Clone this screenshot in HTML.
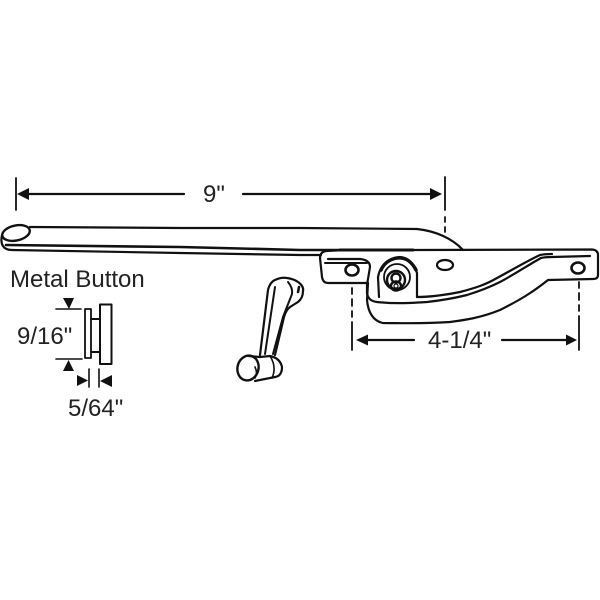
<!DOCTYPE html>
<html><head><meta charset="utf-8"><style>
html,body{margin:0;padding:0;background:#fff;width:600px;height:600px;overflow:hidden}
svg{display:block}
text{font-family:"Liberation Sans",sans-serif;fill:#222;font-size:24px}
</style></head><body>
<svg width="600" height="600" viewBox="0 0 600 600" xmlns="http://www.w3.org/2000/svg">
<g fill="none" stroke="#111" stroke-width="2" stroke-linecap="round" stroke-linejoin="round">
<!-- arm -->
<path d="M30 227 L180 228 L300 228 L417 229 C435 231 452 238 463 250" stroke-width="2.200"/>
<ellipse cx="16" cy="233" rx="14" ry="7.500" transform="rotate(-12 16 233)" stroke-width="2.400"/>
<path d="M2 235 C0 244 3 250 12 250 L180 253 L300 255 L321 255" stroke-width="2.200"/>
<path d="M6 245 L180 247 L300 250 L413 250" stroke-width="2.600"/>
<path d="M340 250 L413 250" stroke-width="3"/>
<!-- bracket -->
<path d="M413 250 L592 249.500 Q598 250 598 255 L598 275 Q598 279 593 279 L548 280 C533 292 520 300 500 310 C480 318 465 320 450 322 C420 324 400 323 383 323 C373 321 368 312 367 300 L368 283 L328 283 Q323 283 322 277 L320 258 Q320 252 326 251 L345 250" stroke-width="2.200"/>
<path d="M328 259 L360 259 Q370 260 370 267 L367 285 L367 293 Q368 301 377 302 C395 304 410 303 427 302 C445 300 455 298 467 295 C480 291 490 287 500 282 C515 274 530 264 541 258 Q545 257 552 257 L590 256" stroke-width="2.200"/>
<path d="M325 263 L367 263" stroke-width="2"/>
<path d="M417 297 C430 297 445 295 460 292 C475 288 485 285 497 278 C512 270 527 261 540 255 Q545 254 552 254" stroke-width="2.200"/>
<path d="M417 297 L417 273 C414 263 408 258 400 257 C388 258 380 266 378 277 L379 297" stroke-width="2.200"/>
<path d="M381 270 C385 261 394 257 402 258 C408 259 413 264 416 270" stroke-width="3.500"/>
<circle cx="397" cy="277" r="13" stroke-width="1.800"/>
<circle cx="396" cy="280" r="9" stroke-width="2.400"/>
<circle cx="396" cy="278" r="4.500" stroke-width="2.400"/>
<ellipse cx="396" cy="286" rx="5" ry="4.500" stroke-width="2.400"/>
<circle cx="396" cy="286" r="2" stroke-width="1.200"/>
<ellipse cx="445" cy="265" rx="8" ry="5" stroke-width="2.200"/>
<ellipse cx="352" cy="270" rx="6.500" ry="5.500" stroke-width="2.600"/>
<ellipse cx="578" cy="268" rx="6.500" ry="5.500" stroke-width="2.600"/>
<!-- crank -->
<path d="M260 355 L268 290 Q270 282 275 280 Q281 277 287 278 Q294 279 298 282 Q304 286 303 291 Q303 298 298 302 L290 307 Q286 310 284 317 L275 355" stroke-width="2.200"/>
<path d="M275 287 L265 354" stroke-width="2"/>
<path d="M288 282 Q293 288 292 294 L283 317 L273 354" stroke-width="2"/>
<path d="M299 287 L298 292" stroke-width="2.500"/>
<path d="M249 356 L260 357 L270 356 Q280 358 282 367 Q282 376 275 377 L255 381" stroke-width="2.200"/>
<ellipse cx="248" cy="368" rx="10.500" ry="12.500" transform="rotate(15 248 368)" stroke-width="2.400"/>
<path d="M270 356 Q277 367 272 378 M255 367 Q258 373 255 378" stroke-width="1.600"/>
<!-- button -->
<rect x="85" y="309" width="6" height="49" stroke-width="1.800"/>
<rect x="100" y="304.500" width="11.500" height="59.500" stroke-width="2"/>
<path d="M91 319 L100 319 M91 352 L100 352" stroke-width="2"/>
<path d="M56 309 L81 309 M56 359 L82 359 M89 369 L89 387 M99 369 L99 387" stroke-width="1.600"/>
<!-- dimensions -->
<path d="M16 178 L16 210" stroke-width="1.800"/>
<path d="M28 194 L184 194 M243 194 L432 194" stroke-width="2.200"/>
<path d="M445 177 L445 210 M445 217 L445 222 M445 227 L445 232" stroke-width="1.800"/>
<path d="M352 288 L352 294 M352 299 L352 306 M352 311 L352 317 M352 322 L352 350" stroke-width="1.800"/>
<path d="M579 282 L579 288 M579 293 L579 300 M579 305 L579 311 M579 316 L579 350" stroke-width="1.800"/>
<path d="M365 340 L414 340 M502 340 L568 340" stroke-width="2.200"/>
</g>
<g fill="#111" stroke="none">
<path d="M17 194 L29 188 L29 200Z"/>
<path d="M442 194 L430 188 L430 200Z"/>
<path d="M356 340 L368 334.500 L368 345.500Z"/>
<path d="M577 340 L566 334.500 L566 345.500Z"/>
<path d="M69 309 L63 298 L74 298Z"/>
<path d="M68.500 360 L63 371 L74 371Z"/>
<path d="M88 380.500 L77 375 L77 386Z"/>
<path d="M100 381 L112 375 L112 387Z"/>
</g>
<text x="203" y="202">9"</text>
<text x="428" y="348">4-1/4"</text>
<text x="10" y="287">Metal Button</text>
<text x="17" y="344">9/16"</text>
<text x="68" y="416">5/64"</text>
</svg>
</body></html>
